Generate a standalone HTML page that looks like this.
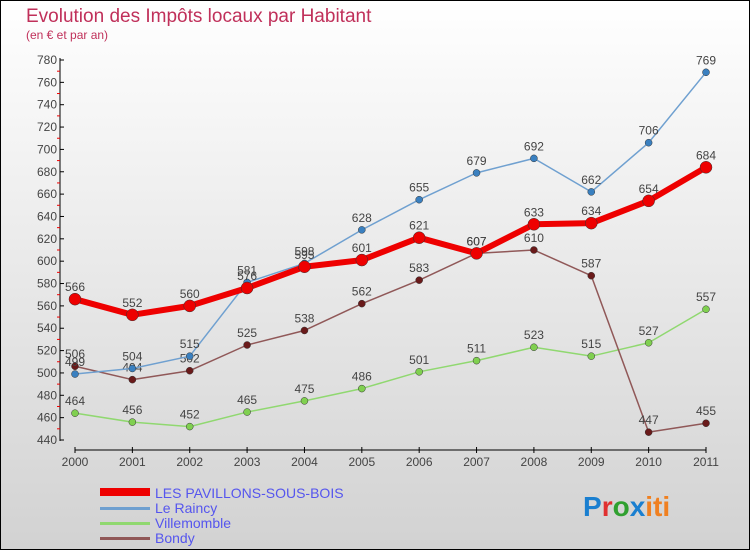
<!DOCTYPE html>
<html><head><meta charset="utf-8"><style>
body{margin:0}
#c{width:750px;height:550px;position:relative;overflow:hidden}
svg{font-family:"Liberation Sans",sans-serif}
</style></head><body>
<div id="c">
<svg id="s" width="750" height="550" xmlns="http://www.w3.org/2000/svg">
<defs><linearGradient id="bg" x1="0" y1="0" x2="0" y2="1"><stop offset="0" stop-color="#ffffff"/><stop offset="1" stop-color="#d2d2d2"/></linearGradient></defs>
<rect x="0.5" y="0.5" width="749" height="549" fill="url(#bg)" stroke="#000"/>
<text x="26" y="22" font-size="19" fill="#c0305a">Evolution des Impôts locaux par Habitant</text>
<text x="26" y="39" font-size="12" fill="#c0305a">(en € et par an)</text>
<g id="axes"></g><g id="series"></g>
<g>
<rect x="100" y="488" width="50" height="8" fill="#e00"/>
<text x="155" y="498" font-size="14" fill="#5555ee">LES PAVILLONS-SOUS-BOIS</text>
<rect x="100" y="507" width="50" height="3" fill="#6fa0d0"/>
<text x="155" y="513" font-size="14" fill="#5555ee">Le Raincy</text>
<rect x="100" y="522" width="50" height="3" fill="#90d870"/>
<text x="155" y="528" font-size="14" fill="#5555ee">Villemomble</text>
<rect x="100" y="537" width="50" height="3" fill="#905858"/>
<text x="155" y="543" font-size="14" fill="#5555ee">Bondy</text>
</g>
<text x="583" y="516" font-size="28" font-weight="bold"><tspan fill="#1a7fd0">P</tspan><tspan fill="#e03030">r</tspan><tspan fill="#30a030">o</tspan><tspan fill="#1a7fd0">x</tspan><tspan fill="#f08020">iti</tspan></text>
</svg></div>
<script>
const years=["2000","2001","2002","2003","2004","2005","2006","2007","2008","2009","2010","2011"];
const yTicks=[440,460,480,500,520,540,560,580,600,620,640,660,680,700,720,740,760,780];
const pavillons=[566,552,560,576,595,601,621,607,633,634,654,684];
const raincy=[499,504,515,581,598,628,655,679,692,662,706,769];
const villemomble=[464,456,452,465,475,486,501,511,523,515,527,557];
const bondy=[506,494,502,525,538,562,583,607,610,587,447,455];
const NS="http://www.w3.org/2000/svg";
const X=i=>75+i*(706-75)/11;
const Y=v=>440-(v-440)*(440-60)/340;
function mk(t,a,p){const e=document.createElementNS(NS,t);for(const k in a)e.setAttribute(k,a[k]);p.appendChild(e);return e;}
const ax=document.getElementById('axes');
let e=mk('line',{x1:60,y1:58,x2:60,y2:441,stroke:'#000'},ax);


e=mk('line',{x1:75,y1:450,x2:706,y2:450,stroke:'#000'},ax);


yTicks.forEach((v,i)=>{
  mk('line',{x1:60,y1:Y(v),x2:64,y2:Y(v),stroke:'#000'},ax);
  if(i<yTicks.length-1)mk('line',{x1:57,y1:Y(v+10),x2:60,y2:Y(v+10),stroke:'#e00'},ax);
  const t=mk('text',{x:57,y:Y(v)+4,'font-size':12,fill:'#444','text-anchor':'end'},ax);
  t.textContent=v;
  
  
});
years.forEach((y,i)=>{
  mk('line',{x1:X(i),y1:447,x2:X(i),y2:453,stroke:'#000'},ax);
  const t=mk('text',{x:X(i),y:466,'font-size':12,fill:'#444','text-anchor':'middle'},ax);
  t.textContent=y;
  
  
});
const sg=document.getElementById('series');
function draw(d,name,col,w,r,dot,lblCol){
  const g=mk('g',{},sg);
  
  
  mk('polyline',{points:d.map((v,i)=>X(i)+','+Y(v)).join(' '),fill:'none',stroke:col,'stroke-width':w,'stroke-linejoin':'round'},g);
  d.forEach((v,i)=>{
    const c=mk('circle',{cx:X(i),cy:Y(v),r:r,fill:dot,stroke:'#333','stroke-width':0.5},g);
    
    
    const t=mk('text',{x:X(i),y:Y(v)-8,'font-size':12,fill:'#444','text-anchor':'middle'},g);
    t.textContent=v;
  });
}
draw(villemomble,'villemomble','#90d870',1.5,3.5,'#80d050');
draw(bondy,'bondy','#905858',1.5,3.5,'#6a1a1a');
draw(raincy,'le-raincy','#6fa0d0',1.5,3.5,'#3a80c0');
draw(pavillons,'pavillons','#ee0000',6,6,'#ee0000');
</script>
</body></html>
